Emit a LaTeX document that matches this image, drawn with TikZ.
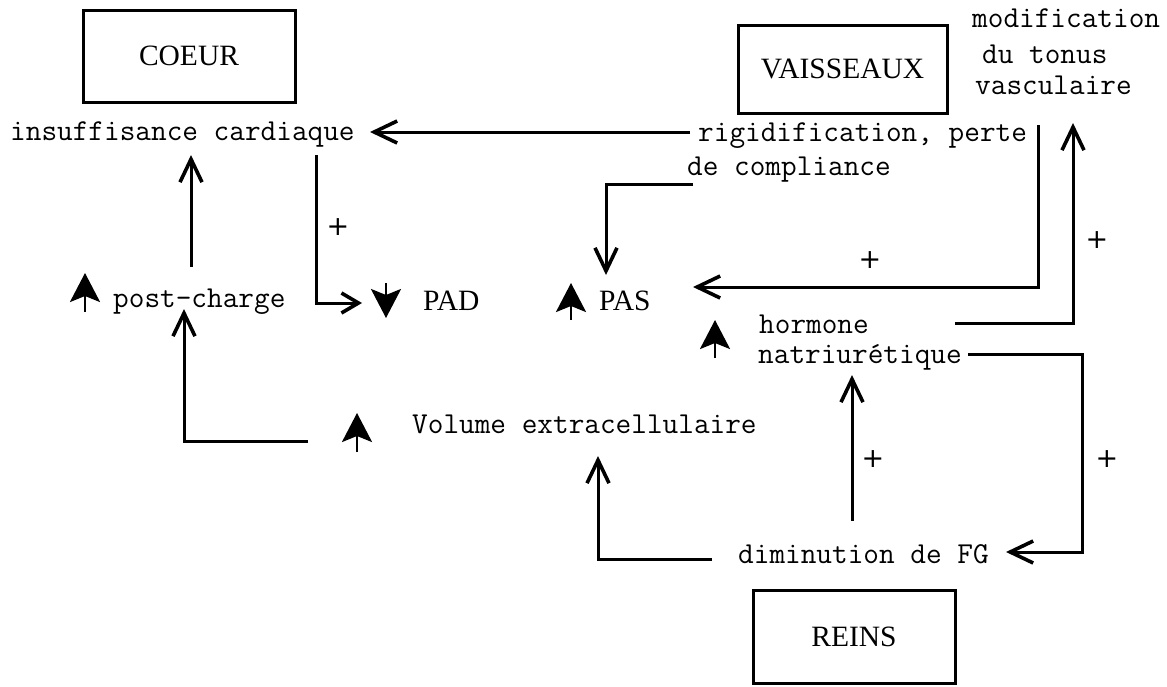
\documentclass[tikz,border=0pt]{standalone}
\usepackage{fontspec}
\setmainfont{Liberation Serif}
\newfontfamily\plusfont{DejaVu Sans}
\usetikzlibrary{arrows.meta}
\begin{document}
\begin{tikzpicture}[x=1pt,y=-1pt,
  lbl/.style={font=\ttfamily\fontsize{30.4}{34}\selectfont, inner sep=0pt, anchor=base west},
  captext/.style={font=\fontsize{29.5}{33}\selectfont, inner sep=0pt},
  organ/.style={draw, line width=3pt, inner sep=0pt, font=\fontsize{29.5}{33}\selectfont},
  plus/.style={font=\plusfont\fontsize{27}{30}\selectfont, inner sep=0pt},
  conn/.style={line width=3pt, -{Straight Barb[length=23pt,width=22pt,line width=3.6pt]}},
  connsmall/.style={line width=3pt, -{Straight Barb[length=17pt,width=20pt,line width=3.6pt]}},
  trend/.style={line width=2.6pt, -{Stealth[length=29pt,width=30pt,inset=6pt]}}
]
\useasboundingbox (0,0) rectangle (1167,686);

% organ boxes
\node[organ, minimum width=212pt, minimum height=92pt] (coeur) at (189,56) {COEUR};
\node[organ, minimum width=209pt, minimum height=88pt] (vaiss) at (842.5,69) {VAISSEAUX};
\node[organ, minimum width=202pt, minimum height=93pt] (reins) at (854,636.5) {REINS};

% texts
\node[lbl] (ins) at (10,140) {insuffisance cardiaque};
\node[lbl] (rig) at (698,141) {rigidification, perte};
\node[lbl] (comp) at (687,175) {de compliance};
\node[lbl] (mod1) at (972,27) {modification};
\node[lbl] (mod2) at (982,63) {du tonus};
\node[lbl] (mod3) at (975,94) {vasculaire};
\node[lbl] (post) at (113,307) {post-charge};
\node[captext, anchor=base west] (pad) at (423,310) {PAD};
\node[captext, anchor=base west] (pas) at (599,310) {PAS};
\node[lbl] (horm1) at (759,333) {hormone};
\node[lbl] (horm2) at (758,363) {natriurétique};
\node[lbl] (vol) at (412,433) {Volume extracellulaire};
\node[lbl] (fg) at (738,563) {diminution de FG};

% increase / decrease symbols
\draw[trend] (85,312) -- (85,273);
\draw[trend] (386,283) -- (386,318);
\draw[trend] (571,320) -- (571,283);
\draw[trend] (715,358) -- (715,320);
\draw[trend] (357,452) -- (357,413);

% connector end points
\coordinate (rigL) at (690,132);
\coordinate (insR) at (370,132);
\coordinate (insB) at (316,155);
\coordinate (padL) at (362,303);
\coordinate (postT) at (191,267);
\coordinate (insB2) at (191,155);
\coordinate (volL) at (308,441);
\coordinate (postB) at (184,309);
\coordinate (compL) at (693,184);
\coordinate (pasT) at (606,275);
\coordinate (rigR) at (1038,125);
\coordinate (pasR) at (693,287);
\coordinate (hormR) at (955,323);
\coordinate (modB) at (1073,123);
\coordinate (natR) at (968,354);
\coordinate (fgR) at (1006,552);
\coordinate (fgT) at (852,521);
\coordinate (natB) at (852,375);
\coordinate (fgL) at (712,559);
\coordinate (volB) at (598,456);

% connectors
\draw[conn] (rigL) -- (insR);
\draw[connsmall] (insB) |- (padL);
\draw[conn] (postT) -- (insB2);
\draw[conn] (volL) -| (postB);
\draw[conn] (compL) -| (pasT);
\draw[conn] (rigR) |- (pasR);
\draw[conn] (hormR) -| (modB);
\draw[conn] (natR) -- (1082,354) |- (fgR);
\draw[conn] (fgT) -- (natB);
\draw[conn] (fgL) -| (volB);

% plus signs
\node[plus] (p1) at (338,227) {+};
\node[plus] (p2) at (870,260) {+};
\node[plus] (p3) at (1097,240) {+};
\node[plus] (p4) at (873,459) {+};
\node[plus] (p5) at (1107,459) {+};
\end{tikzpicture}
\end{document}
